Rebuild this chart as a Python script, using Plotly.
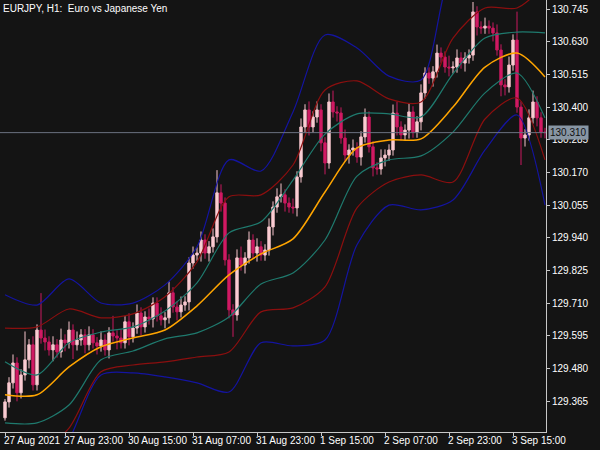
import plotly.graph_objects as go

first_open = 129.306
close = [
129.362,129.429,129.499,129.394,129.457,129.510,129.563,129.422,129.615,129.587,
129.573,129.545,129.563,129.538,129.580,129.570,129.615,129.563,129.580,129.598,
129.563,129.598,129.570,129.559,129.580,129.545,129.605,129.594,129.587,129.570,
129.644,129.591,129.622,129.675,129.626,129.661,129.654,129.710,129.665,129.651,
129.658,129.746,129.696,129.679,129.703,129.714,129.851,129.879,129.886,129.932,
129.886,129.908,129.943,130.098,130.062,129.862,129.686,129.668,129.869,129.844,
129.869,129.932,129.886,129.908,129.879,129.897,129.978,130.048,130.084,130.091,
130.062,130.048,130.045,130.154,130.330,130.390,130.330,130.365,130.390,130.274,
130.203,130.418,130.383,130.379,130.291,130.231,130.249,130.256,130.224,130.295,
130.365,130.260,130.186,130.182,130.221,130.231,130.249,130.379,130.330,130.302,
130.319,130.383,130.312,130.348,130.450,130.520,130.502,130.524,130.590,130.576,
130.541,130.538,130.541,130.573,130.555,130.573,130.583,130.735,130.682,130.678,
130.685,130.678,130.661,130.601,130.478,130.471,130.548,130.636,130.400,130.291,
130.302,130.362,130.418,130.362,130.312,130.310]
upper_wick = [
0.01,0.02,0.03,0.02,0.02,0.10,0.02,0.03,0.02,0.13,
0.03,0.02,0.03,0.02,0.04,0.02,0.03,0.02,0.03,0.02,
0.02,0.03,0.02,0.02,0.03,0.02,0.02,0.06,0.02,0.03,
0.02,0.03,0.02,0.03,0.02,0.02,0.03,0.02,0.02,0.03,
0.02,0.04,0.02,0.02,0.03,0.02,0.02,0.03,0.02,0.03,
0.02,0.02,0.03,0.08,0.03,0.02,0.02,0.02,0.03,0.04,
0.02,0.03,0.02,0.03,0.02,0.02,0.03,0.02,0.03,0.04,
0.02,0.02,0.03,0.02,0.03,0.02,0.03,0.02,0.03,0.02,
0.02,0.03,0.04,0.02,0.02,0.03,0.02,0.03,0.02,0.02,
0.03,0.02,0.02,0.02,0.03,0.02,0.02,0.03,0.04,0.02,
0.02,0.03,0.02,0.02,0.03,0.02,0.02,0.02,0.03,0.02,
0.02,0.04,0.02,0.03,0.02,0.02,0.02,0.035,0.02,0.02,
0.03,0.02,0.02,0.03,0.02,0.02,0.03,0.02,0.10,0.02,
0.02,0.03,0.04,0.02,0.02,0.015]
lower_wick = [
0.01,0.02,0.02,0.03,0.02,0.02,0.03,0.02,0.02,0.02,
0.03,0.02,0.04,0.02,0.02,0.03,0.02,0.05,0.02,0.02,
0.03,0.02,0.02,0.03,0.02,0.02,0.03,0.02,0.04,0.02,
0.02,0.03,0.02,0.02,0.03,0.02,0.02,0.03,0.02,0.02,
0.03,0.02,0.02,0.03,0.02,0.02,0.03,0.02,0.02,0.03,
0.02,0.03,0.02,0.02,0.03,0.02,0.03,0.077,0.02,0.02,
0.03,0.02,0.02,0.03,0.02,0.02,0.02,0.03,0.02,0.02,
0.03,0.02,0.02,0.03,0.02,0.02,0.03,0.02,0.02,0.03,
0.04,0.02,0.02,0.03,0.02,0.02,0.03,0.02,0.02,0.03,
0.02,0.02,0.03,0.02,0.02,0.03,0.02,0.02,0.03,0.02,
0.02,0.03,0.02,0.02,0.03,0.02,0.02,0.03,0.02,0.02,
0.02,0.03,0.02,0.02,0.02,0.03,0.02,0.02,0.03,0.02,
0.02,0.02,0.03,0.02,0.04,0.03,0.02,0.02,0.02,0.095,
0.03,0.02,0.02,0.03,0.02,0.02]

band_bar = [0, 8, 16, 24, 32, 40, 48, 56, 64, 72, 80, 88, 96, 104, 112, 120, 128, 135]
mid = [129.387,129.387,129.485,129.556,129.587,129.615,129.700,129.809,129.883,129.936,130.101,130.256,130.284,130.288,130.400,130.541,130.590,130.506]
teal_up = [129.503,129.457,129.570,129.608,129.626,129.682,129.781,129.957,129.996,130.143,130.305,130.376,130.376,130.365,130.517,130.643,130.664,130.661]
teal_dn = [129.288,129.288,129.351,129.510,129.541,129.584,129.605,129.661,129.777,129.816,129.932,130.157,130.214,130.228,130.312,130.450,130.520,130.362]
red_up = [129.622,129.626,129.689,129.658,129.672,129.732,129.855,130.084,130.091,130.196,130.460,130.492,130.429,130.418,130.643,130.749,130.749,130.830]
red_dn = [129.123,129.175,129.270,129.468,129.492,129.503,129.520,129.538,129.679,129.693,129.767,130.045,130.136,130.161,130.136,130.358,130.432,130.214]
blue_up = [129.739,129.703,129.795,129.710,129.710,129.774,129.908,130.214,130.175,130.383,130.654,130.608,130.509,130.495,130.883,130.918,130.830,130.795]
blue_dn = [128.947,129.052,129.228,129.457,129.464,129.450,129.429,129.397,129.570,129.559,129.580,129.915,130.055,130.038,130.073,130.249,130.372,130.055]

tick_bars = [0, 15, 31, 47, 63, 79, 95, 111, 127]
tick_text = ["27 Aug 2021", "27 Aug 23:00", "30 Aug 15:00", "31 Aug 07:00", "31 Aug 23:00",
             "1 Sep 15:00", "2 Sep 07:00", "2 Sep 23:00", "3 Sep 15:00"]
price_ticks = [129.365, 129.480, 129.595, 129.710, 129.825, 129.940, 130.055,
               130.170, 130.285, 130.400, 130.515, 130.630, 130.745]
last_price = 130.310

n = len(close)
bars = list(range(n))
opens = [first_open] + close[:-1]
highs = [max(o, c) + w for o, c, w in zip(opens, close, upper_wick)]
lows = [min(o, c) - w for o, c, w in zip(opens, close, lower_wick)]

FONT = "Liberation Sans"
fig = go.Figure()
for ys, col in [(blue_up, "#1414a0"), (blue_dn, "#1414a0"), (red_up, "#8b0f0f"), (red_dn, "#8b0f0f"),
                (teal_up, "#1f7a6e"), (teal_dn, "#1f7a6e"), (mid, "#ffa500")]:
    fig.add_trace(go.Scatter(x=band_bar, y=ys, mode="lines",
                             line=dict(color=col, width=1.2 if col != "#ffa500" else 1.5, shape="spline", smoothing=0.8),
                             hoverinfo="skip", showlegend=False))
fig.add_trace(go.Candlestick(x=bars, open=opens, high=highs, low=lows, close=close,
    increasing=dict(line=dict(color="#f7c5cc", width=1), fillcolor="#fbd0d6"),
    decreasing=dict(line=dict(color="#c8195e", width=1), fillcolor="#d41a66"),
    whiskerwidth=0, showlegend=False))
fig.add_hline(y=last_price, line=dict(color="#6b7280", width=1))

for b, t in zip(tick_bars, tick_text):
    fig.add_annotation(x=b, y=0, xref="x", yref="paper", yanchor="top", xanchor="left", text=t,
                       showarrow=False, font=dict(color="white", size=10, family=FONT), xshift=-3, yshift=-1)
fig.add_annotation(x=1, y=last_price, xref="paper", yref="y", xanchor="left", text=f"{last_price:.3f}",
                   showarrow=False, bgcolor="#8896a4", font=dict(color="#101010", size=10, family=FONT),
                   xshift=2, borderpad=1)
fig.add_annotation(x=0, y=1, xref="paper", yref="paper", xanchor="left", yanchor="top",
                   text="EURJPY, H1:  Euro vs Japanese Yen", showarrow=False,
                   font=dict(color="white", size=10, family=FONT), xshift=1, yshift=-1)

fig.update_layout(
    width=600, height=450, margin=dict(l=0, r=54, t=0, b=18),
    paper_bgcolor="#141414", plot_bgcolor="#141414", boxgap=0.15,
    font=dict(family=FONT, color="white", size=10),
    xaxis=dict(range=[-1.25, 135.25], showgrid=False, zeroline=False, showticklabels=False,
               rangeslider=dict(visible=False), showline=True, linecolor="#c8c8c8",
               tickvals=tick_bars, ticks="outside", ticklen=3, tickcolor="#c8c8c8"),
    yaxis=dict(range=[129.256, 130.777], side="right", showgrid=False, zeroline=False,
               tickvals=price_ticks, ticktext=[f"{p:.3f}" for p in price_ticks],
               showline=True, linecolor="#c8c8c8", ticks="outside", ticklen=3, tickcolor="#c8c8c8"),
)
fig.write_html("out.html", config={"displayModeBar": False})
with open("out.html", encoding="utf-8") as f:
    html = f.read()
html = html.replace("<head>", "<head><style>html,body{margin:0;padding:0;background:#141414;overflow:hidden}</style>", 1)
with open("out.html", "w", encoding="utf-8") as f:
    f.write(html)
